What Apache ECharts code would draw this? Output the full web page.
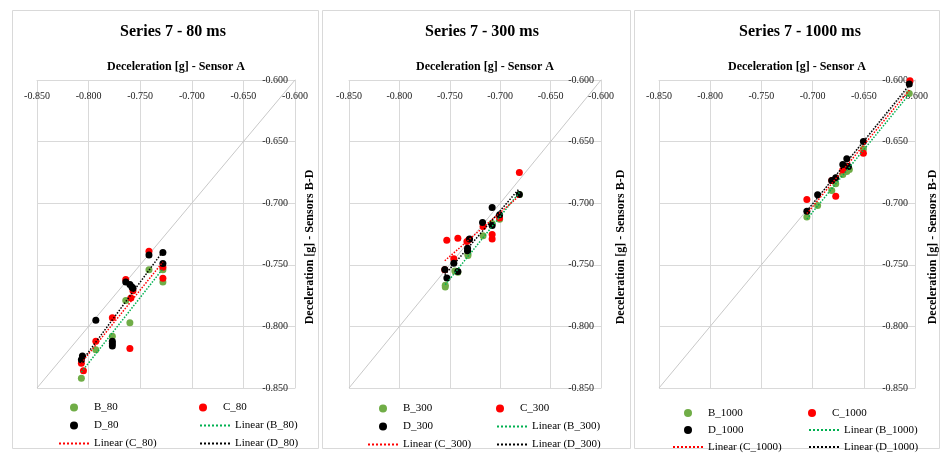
<!DOCTYPE html>
<html>
<head>
<meta charset="utf-8">
<style>
  html, body { margin: 0; padding: 0; background: #fff; }
  #chart { width: 942px; height: 457px; }
</style>
<script src="https://cdn.jsdelivr.net/npm/echarts@6/dist/echarts.min.js"></script>
</head>
<body>
<div id="chart"></div>
<script>
// 轴范围和刻度
var axisMin = -0.85
var axisMax = -0.6
var axisStep = 0.05
var titles = ['Series 7 - 80 ms', 'Series 7 - 300 ms', 'Series 7 - 1000 ms']
var tags = ['80', '300', '1000']

// [Sensor A, Sensor B-D]
var B_80 = [[-0.807, -0.842], [-0.793, -0.819], [-0.777, -0.808], [-0.764, -0.779], [-0.760, -0.797], [-0.7415, -0.754], [-0.728, -0.754], [-0.728, -0.764]]
var C_80 = [[-0.807, -0.830], [-0.805, -0.836], [-0.793, -0.812], [-0.777, -0.793], [-0.764, -0.762], [-0.760, -0.818], [-0.759, -0.777], [-0.757, -0.771], [-0.7415, -0.739], [-0.728, -0.752], [-0.728, -0.761]]
var D_80 = [[-0.807, -0.827], [-0.806, -0.824], [-0.793, -0.795], [-0.777, -0.812], [-0.777, -0.814], [-0.777, -0.816], [-0.764, -0.764], [-0.760, -0.766], [-0.758, -0.768], [-0.757, -0.769], [-0.7415, -0.742], [-0.728, -0.740], [-0.728, -0.749]]

var B_300 = [[-0.7545, -0.7667], [-0.7545, -0.768], [-0.745, -0.755], [-0.742, -0.756], [-0.732, -0.741], [-0.732, -0.7425], [-0.717, -0.7264], [-0.708, -0.7165], [-0.7006, -0.713], [-0.681, -0.693]]
var C_300 = [[-0.755, -0.754], [-0.753, -0.730], [-0.746, -0.745], [-0.742, -0.7285], [-0.733, -0.731], [-0.731, -0.7295], [-0.717, -0.719], [-0.708, -0.7255], [-0.708, -0.729], [-0.7006, -0.712], [-0.681, -0.675]]
var D_300 = [[-0.755, -0.7538], [-0.7529, -0.7608], [-0.746, -0.7487], [-0.742, -0.7554], [-0.7324, -0.7366], [-0.7324, -0.7385], [-0.7304, -0.729], [-0.7175, -0.7156], [-0.708, -0.7035], [-0.708, -0.718], [-0.7006, -0.7094], [-0.681, -0.693]]

var B_1000 = [[-0.7056, -0.7113], [-0.6951, -0.7019], [-0.6813, -0.6897], [-0.6774, -0.6843], [-0.6705, -0.6767], [-0.6666, -0.6743], [-0.6641, -0.6727], [-0.6504, -0.656], [-0.6056, -0.6109]]
var C_1000 = [[-0.7056, -0.697], [-0.6813, -0.6816], [-0.6774, -0.6943], [-0.6705, -0.673], [-0.6666, -0.670], [-0.6504, -0.6595], [-0.6049, -0.6006]]
var D_1000 = [[-0.7056, -0.7065], [-0.6951, -0.6932], [-0.6813, -0.6816], [-0.6774, -0.6794], [-0.6705, -0.6686], [-0.6666, -0.664], [-0.665, -0.6703], [-0.6504, -0.65], [-0.6056, -0.6032]]

var panelData = [
  { B: B_80, C: C_80, D: D_80 },
  { B: B_300, C: C_300, D: D_300 },
  { B: B_1000, C: C_1000, D: D_1000 }
]

var serif = '"Liberation Serif", "DejaVu Serif", serif'
var gridColor = '#d9d9d9'
var markerColor = { B: '#70ad47', C: '#ff0000', D: '#000000' }
var trendColor = { B: '#00b050', C: '#ff0000', D: '#000000' }

// 面板布局
var panels = [
  { box: [12, 10, 306, 438], grid: [37, 258], title: 168, yGap: 9, legendLeft: 58, legendTop: 401, rowH: 13, textW: 100 },
  { box: [322, 10, 308, 438], grid: [349, 252], title: 477, yGap: 14, legendLeft: 367, legendTop: 402, rowH: 13, textW: 88 },
  { box: [634, 10, 305, 438], grid: [659, 256], title: 795, yGap: 12, legendLeft: 672, legendTop: 407, rowH: 12, textW: 95 }
]

// 最小二乘趋势线 (Excel Linear trendline)
function trend(points) {
  var n = points.length, sx = 0, sy = 0, sxx = 0, sxy = 0
  var lo = Infinity, hi = -Infinity
  points.forEach(function (p) {
    sx += p[0]; sy += p[1]; sxx += p[0] * p[0]; sxy += p[0] * p[1]
    lo = Math.min(lo, p[0]); hi = Math.max(hi, p[0])
  })
  var k = (n * sxy - sx * sy) / (n * sxx - sx * sx)
  var b = (sy - k * sx) / n
  return [[lo, k * lo + b], [hi, k * hi + b]]
}

function getOption() {
  var option = {
    animation: false,
    backgroundColor: '#fff',
    title: [], grid: [], xAxis: [], yAxis: [], legend: [], series: [],
    graphic: []
  }
  panels.forEach(function (p, i) {
    var tag = tags[i]
    option.graphic.push({
      type: 'rect',
      shape: { x: p.box[0] + 0.5, y: p.box[1] + 0.5, width: p.box[2], height: p.box[3] },
      style: { fill: null, stroke: gridColor, lineWidth: 1 },
      silent: true
    })
    option.title.push({
      text: titles[i],
      left: p.title, top: 19, textAlign: 'center',
      textStyle: { fontFamily: serif, fontSize: 16, fontWeight: 'bold', color: '#000' }
    })
    option.grid.push({ left: p.grid[0], width: p.grid[1], top: 80, height: 308 })
    option.xAxis.push({
      gridIndex: i, type: 'value', position: 'top',
      min: axisMin, max: axisMax, interval: axisStep,
      name: 'Deceleration [g] - Sensor A', nameLocation: 'middle', nameGap: 7,
      nameTextStyle: { fontFamily: serif, fontSize: 12, fontWeight: 'bold', color: '#000', padding: [0, 0, 0, 20] },
      axisLine: { show: true, onZero: false, lineStyle: { color: gridColor } },
      axisTick: { show: false },
      axisLabel: { inside: true, margin: 11, fontFamily: serif, fontSize: 10, color: '#222',
        formatter: function (v) { return v.toFixed(3) } },
      splitLine: { show: true, lineStyle: { color: gridColor } }
    })
    option.yAxis.push({
      gridIndex: i, type: 'value', position: 'right',
      min: axisMin, max: axisMax, interval: axisStep,
      name: 'Deceleration [g] - Sensors B-D', nameLocation: 'middle', nameGap: p.yGap, nameRotate: 90,
      nameTextStyle: { fontFamily: serif, fontSize: 12, fontWeight: 'bold', color: '#000', padding: [0, 26, 0, 0] },
      axisLine: { show: true, onZero: false, lineStyle: { color: gridColor } },
      axisTick: { show: false },
      axisLabel: { inside: true, margin: 7, fontFamily: serif, fontSize: 10, color: '#222',
        formatter: function (v) { return v.toFixed(3) } },
      splitLine: { show: true, lineStyle: { color: gridColor } }
    })
    // 1:1 参考线
    option.series.push({
      type: 'line', xAxisIndex: i, yAxisIndex: i, silent: true, symbol: 'none', z: 1,
      data: [[axisMin, axisMin], [axisMax, axisMax]],
      lineStyle: { color: '#c8c8c8', width: 1 }
    })
    var legendList = []
    ;['B', 'C', 'D'].forEach(function (s) {
      var name = s + '_' + tag
      legendList.push({ name: name })
      option.series.push({
        name: name, type: 'scatter', xAxisIndex: i, yAxisIndex: i, z: 3,
        symbol: 'circle', symbolSize: 7,
        itemStyle: { color: markerColor[s], opacity: 1 },
        data: panelData[i][s]
      })
    })
    ;['B', 'C', 'D'].forEach(function (s) {
      var name = 'Linear (' + s + '_' + tag + ')'
      // 图例里只要虚线，不要圆点
      legendList.push({ name: name, itemStyle: { opacity: 0 } })
      option.series.push({
        name: name, type: 'line', xAxisIndex: i, yAxisIndex: i, z: 4,
        symbol: 'none',
        itemStyle: { color: trendColor[s] },
        lineStyle: { color: trendColor[s], width: 1.5, type: 'dotted' },
        data: trend(panelData[i][s])
      })
    })
    option.legend.push({
      data: legendList,
      left: p.legendLeft, top: p.legendTop, width: p.textW * 2 + 90, padding: 0,
      orient: 'horizontal', itemWidth: 30, itemHeight: 8, itemGap: 5,
      textStyle: { fontFamily: serif, fontSize: 11, color: '#000', width: p.textW, lineHeight: p.rowH }
    })
  })
  return option
}

var chart = echarts.init(document.getElementById('chart'), null, { renderer: 'canvas' })
chart.setOption(getOption())
</script>
</body>
</html>
